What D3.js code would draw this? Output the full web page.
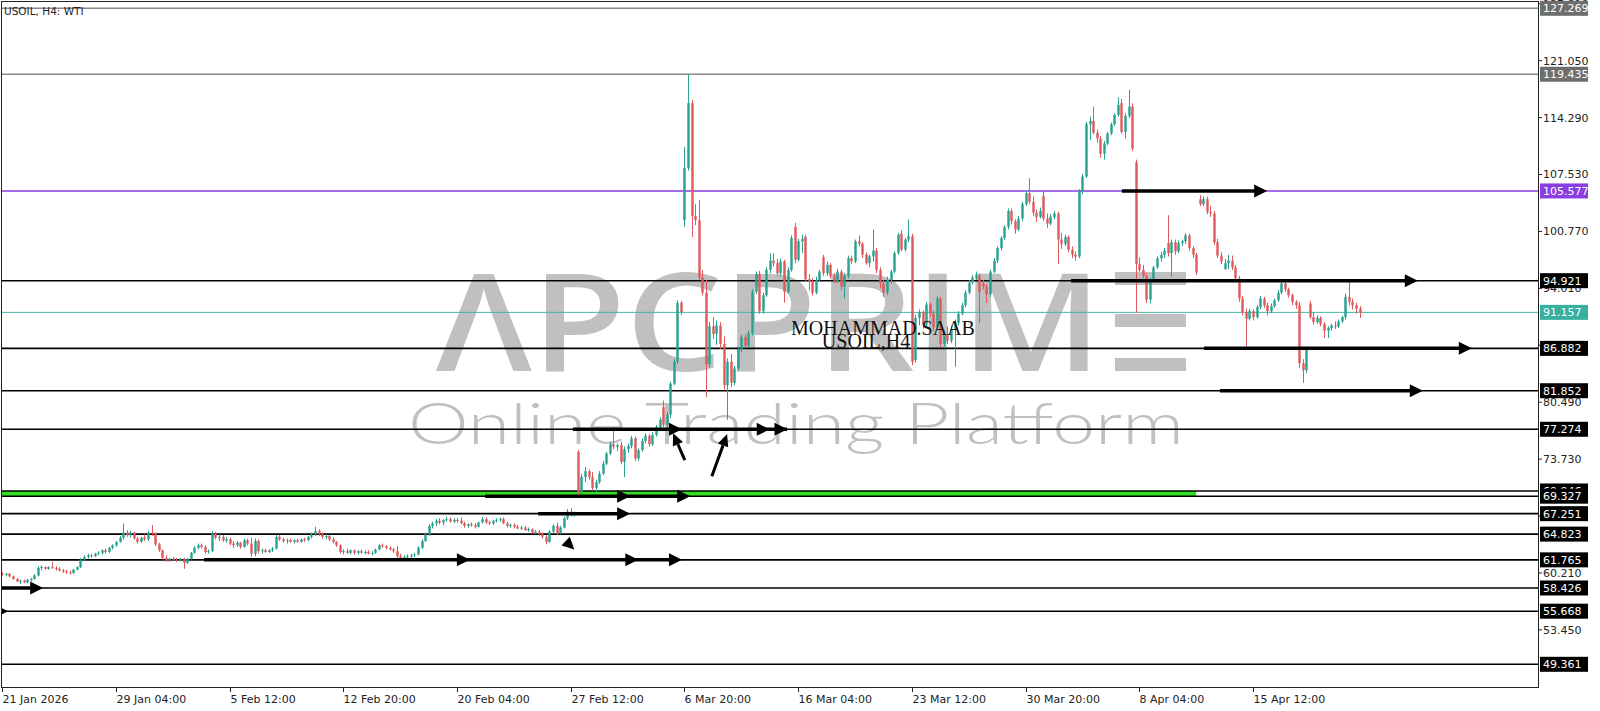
<!DOCTYPE html>
<html><head><meta charset="utf-8">
<script src="https://cdn.jsdelivr.net/npm/d3@7"></script>
<style>body{margin:0;background:#fff}svg{display:block}</style>
</head><body><svg id="c" width="1600" height="711"></svg>
<script>
// ---------- DATA ----------
const candles = [
[60.1,60.3,59.9,60.0],[60.0,60.2,59.8,60.1],[60.1,60.2,59.7,59.8],[59.8,59.9,59.4,59.5],[59.5,59.6,59.1,59.2],
[59.2,59.4,58.9,59.3],[59.3,59.4,59.0,59.1],[59.1,59.5,59.0,59.4],[59.4,59.6,59.2,59.5],[59.5,60.1,59.4,59.9],
[59.9,61.0,59.8,60.8],[60.8,61.1,60.5,60.9],[60.9,61.0,60.6,60.7],[60.7,61.0,60.6,60.9],[60.9,61.5,60.7,60.8],
[60.8,61.0,60.5,60.7],[60.7,60.9,60.4,60.5],[60.5,60.7,60.2,60.4],[60.4,60.6,60.1,60.3],[60.3,60.5,60.0,60.2],
[60.2,60.7,60.1,60.6],[60.6,61.0,60.5,60.9],[60.9,62.0,60.8,61.8],[61.8,62.3,61.6,62.1],[62.1,62.5,61.9,62.3],
[62.3,62.5,62.0,62.2],[62.2,62.6,62.1,62.5],[62.5,62.8,62.3,62.6],[62.6,63.0,62.4,62.9],[62.9,63.1,62.5,62.7],
[62.7,63.3,62.6,63.2],[63.2,63.6,63.0,63.5],[63.5,64.0,63.3,63.9],[63.9,64.6,63.8,64.4],[64.4,66.1,64.2,65.0],
[65.0,65.3,64.5,64.7],[64.7,65.2,64.4,65.0],[65.0,65.1,64.2,64.3],[64.3,64.5,63.7,63.9],[63.9,64.5,63.8,64.4],
[64.4,64.8,64.0,64.2],[64.2,65.2,64.0,65.0],[65.0,65.9,64.6,64.9],[64.9,65.0,63.4,63.6],[63.6,63.8,62.7,62.9],
[62.9,63.0,61.8,62.0],[62.0,62.3,61.5,61.7],[61.7,62.0,61.5,61.9],[61.9,62.1,61.6,61.8],[61.8,62.0,61.5,61.7],
[61.7,62.0,61.6,61.9],[61.9,62.0,60.7,61.4],[61.4,62.0,61.3,61.9],[61.9,62.7,61.8,62.6],[62.6,63.4,62.5,63.2],
[63.2,63.7,63.0,63.5],[63.5,63.7,63.1,63.3],[63.3,63.5,62.5,62.7],[62.7,63.0,62.5,62.8],[62.8,65.2,62.7,64.9],
[64.9,65.1,64.2,64.4],[64.4,64.8,64.0,64.5],[64.5,64.7,63.9,64.1],[64.1,64.5,63.8,64.2],[64.2,64.4,63.5,63.7],
[63.7,64.0,63.2,63.5],[63.5,64.0,63.3,63.8],[63.8,63.9,63.1,63.3],[63.3,64.3,63.2,64.1],[64.1,64.3,63.5,63.7],
[63.7,64.4,62.1,62.5],[62.5,64.3,62.2,64.0],[64.0,64.2,62.5,62.8],[62.8,63.1,62.5,62.9],[62.9,63.1,62.6,62.7],
[62.7,63.0,62.6,62.9],[62.9,63.3,62.7,63.1],[63.1,64.7,63.0,64.5],[64.5,64.7,64.0,64.2],[64.2,64.4,63.8,64.0],
[64.0,64.3,63.7,64.1],[64.1,64.3,63.8,63.9],[63.9,64.2,63.7,64.1],[64.1,64.3,63.8,63.9],[63.9,64.3,63.8,64.2],
[64.2,64.4,63.9,64.1],[64.1,64.6,64.0,64.5],[64.5,65.0,64.3,64.8],[64.8,65.7,64.6,65.2],[65.2,65.4,64.6,64.8],
[64.8,65.0,64.3,64.5],[64.5,64.8,64.2,64.6],[64.6,64.7,64.0,64.2],[64.2,64.4,63.7,63.9],[63.9,64.0,63.3,63.5],
[63.5,63.6,62.5,62.7],[62.7,63.0,62.4,62.8],[62.8,63.1,62.5,62.6],[62.6,63.0,62.4,62.9],[62.9,63.0,62.4,62.6],
[62.6,62.9,62.4,62.8],[62.8,63.0,62.5,62.6],[62.6,62.9,62.4,62.7],[62.7,62.9,62.4,62.5],[62.5,62.8,62.3,62.6],
[62.6,63.1,62.5,63.0],[63.0,63.6,62.9,63.5],[63.5,63.7,63.2,63.4],[63.4,63.5,63.0,63.2],[63.2,63.4,62.9,63.0],
[63.0,63.2,62.6,62.8],[62.8,63.4,62.0,62.2],[62.2,62.5,61.8,62.0],[62.0,62.3,61.8,62.1],[62.1,62.4,61.9,62.2],
[62.2,62.5,62.0,62.3],[62.3,62.6,62.1,62.4],[62.4,63.4,62.3,63.2],[63.2,64.2,63.1,64.0],[64.0,65.0,63.9,64.8],
[64.8,66.0,64.6,65.8],[65.8,66.3,65.5,66.1],[66.1,66.6,65.8,66.4],[66.4,66.7,66.0,66.2],[66.2,66.6,65.9,66.5],
[66.5,66.9,66.3,66.6],[66.6,66.8,66.2,66.3],[66.3,66.7,66.1,66.5],[66.5,66.7,66.2,66.4],[66.4,66.8,66.0,66.1],
[66.1,66.3,65.6,65.8],[65.8,66.1,65.6,66.0],[66.0,66.2,65.7,65.9],[65.9,66.1,65.5,65.7],[65.7,66.3,65.6,66.2],
[66.2,66.9,66.1,66.6],[66.6,66.8,66.0,66.2],[66.2,66.4,65.9,66.1],[66.1,66.5,65.9,66.4],[66.4,66.7,66.2,66.5],
[66.5,66.8,66.3,66.6],[66.6,66.8,66.0,66.1],[66.1,66.3,65.6,65.8],[65.8,66.1,65.6,65.9],[65.9,66.1,65.5,65.7],
[65.7,65.9,65.4,65.5],[65.5,65.8,65.3,65.6],[65.6,65.8,65.2,65.3],[65.3,65.6,65.1,65.4],[65.4,65.5,64.9,65.0],
[65.0,65.3,64.8,65.1],[65.1,65.3,64.6,64.8],[64.8,65.0,64.3,64.5],[64.5,64.7,63.6,63.9],[63.9,65.3,63.8,65.1],
[65.1,66.0,64.9,65.8],[65.8,66.2,64.7,64.9],[64.9,65.8,64.8,65.6],[65.6,66.9,65.5,66.7],[66.7,67.8,66.5,67.5],
[67.5,67.9,66.9,67.2],[67.2,67.5,66.9,67.3],[74.6,74.8,69.5,69.8],[69.8,72.0,69.5,71.6],[71.6,72.8,71.0,72.3],
[72.3,72.5,71.3,71.6],[71.6,72.2,70.0,70.3],[70.3,71.3,69.8,71.0],[71.0,72.3,70.8,72.0],[72.0,73.5,71.8,73.2],
[73.2,74.6,73.0,74.4],[74.4,75.8,74.2,75.5],[75.5,77.5,74.9,75.2],[75.2,75.6,74.7,75.4],[75.4,75.8,73.1,73.4],
[73.4,75.2,71.6,74.9],[74.9,75.6,74.5,75.3],[75.3,76.5,75.0,76.2],[76.2,76.4,73.5,73.8],[73.8,75.0,73.5,74.8],
[74.8,76.2,74.6,75.9],[75.9,76.8,75.6,76.5],[76.5,76.7,75.2,75.5],[75.5,76.9,75.3,76.6],[76.6,77.8,76.4,77.5],
[77.5,78.7,77.3,78.4],[79.9,80.7,77.5,77.8],[77.8,79.3,77.5,79.0],[79.0,82.9,78.6,82.7],[82.7,85.6,82.5,85.3],
[85.3,92.6,85.0,92.3],[92.3,92.5,90.8,91.2],[102.1,110.8,101.3,108.3],[108.3,119.4,108.0,116.0],[116.0,116.4,100.1,102.6],
[102.6,104.0,101.5,102.1],[102.1,104.5,95.0,95.3],[95.3,96.2,93.2,93.5],[93.5,95.0,81.1,85.0],[85.0,90.0,84.6,89.5],
[89.5,90.6,88.0,88.6],[88.6,90.2,87.3,89.6],[89.6,90.0,86.8,87.4],[87.4,88.3,82.0,82.5],[82.5,85.7,78.4,85.3],
[85.3,86.2,82.3,82.8],[82.8,84.8,82.5,84.5],[84.5,87.0,84.2,86.7],[86.7,88.5,86.4,88.2],[88.2,88.5,86.9,87.2],
[87.2,89.0,87.0,88.7],[88.7,93.9,88.4,93.6],[93.6,96.0,93.3,95.7],[95.7,96.1,91.0,91.3],[91.3,93.5,91.0,93.2],
[93.2,96.5,93.0,96.2],[96.2,98.2,95.8,97.3],[97.3,98.2,96.6,97.0],[97.0,97.5,95.5,95.8],[95.8,97.5,95.4,97.2],
[97.2,97.4,92.3,93.6],[93.6,96.5,93.4,96.2],[96.2,100.3,96.0,100.0],[101.3,101.8,97.0,97.4],[97.4,99.9,97.2,99.6],
[99.6,100.4,98.2,99.9],[100.1,100.4,94.8,95.1],[95.1,95.7,93.8,94.8],[94.8,95.2,93.2,93.5],[93.5,95.4,93.3,95.0],
[95.0,96.2,94.8,96.0],[97.7,98.0,95.5,95.8],[95.8,97.2,95.5,96.8],[96.8,97.0,95.2,95.5],[95.5,95.8,94.6,94.8],
[94.8,96.3,94.6,96.0],[96.0,96.2,93.8,94.2],[94.2,95.8,92.8,95.5],[95.5,97.9,95.2,97.6],[97.6,97.9,96.9,97.2],
[97.2,99.8,97.0,99.6],[99.6,100.3,99.0,99.3],[99.3,99.5,97.6,98.0],[98.0,98.3,96.8,97.0],[97.0,98.0,96.5,97.8],
[97.8,101.0,97.2,98.5],[98.5,98.8,95.8,96.2],[96.2,96.5,94.0,94.6],[94.6,95.0,93.0,93.5],[93.5,95.4,93.2,95.0],
[95.0,96.2,94.6,96.0],[96.0,98.4,95.8,98.2],[98.2,100.6,98.0,100.4],[100.5,100.9,98.4,98.6],[98.6,100.0,98.4,99.8],
[99.8,102.2,99.5,100.2],[100.2,100.5,84.9,85.3],[85.5,90.9,85.2,90.5],[90.5,91.5,89.6,91.2],[91.2,91.4,89.2,89.7],
[89.7,92.4,89.5,92.1],[92.1,92.3,90.6,91.0],[91.0,91.3,88.9,89.4],[89.4,93.1,89.2,92.8],[92.8,93.0,87.0,87.4],
[87.4,89.0,86.9,88.6],[88.6,89.5,87.4,87.8],[87.8,89.6,87.5,89.2],[89.2,90.3,84.7,89.9],[89.9,91.3,89.6,91.0],
[91.0,92.3,90.8,92.0],[92.0,93.8,91.8,93.5],[93.5,95.0,93.3,94.7],[94.7,95.6,94.5,95.3],[95.3,96.0,95.0,95.5],
[95.5,95.8,89.9,93.6],[94.6,95.0,93.9,94.2],[94.2,94.5,92.3,93.3],[93.3,96.2,93.0,96.0],[96.0,97.6,95.8,97.3],
[97.3,99.0,97.0,98.8],[98.8,100.2,98.5,100.0],[100.0,101.5,99.8,101.3],[101.3,103.5,101.0,103.2],[103.2,103.5,101.6,102.0],
[102.0,102.2,100.5,101.0],[101.0,102.6,100.8,102.3],[102.3,104.3,102.0,104.0],[104.0,105.6,103.8,105.3],[105.3,107.1,104.0,104.3],
[104.3,104.9,102.6,103.0],[103.0,103.4,101.9,102.5],[102.5,103.6,102.3,103.2],[105.0,105.5,102.0,102.3],[102.3,102.9,101.2,101.7],
[101.7,102.8,101.5,102.5],[102.5,103.2,102.2,102.9],[102.9,103.1,96.9,99.8],[99.8,100.6,98.7,99.3],[99.3,100.4,99.0,100.1],
[100.1,100.3,98.3,98.6],[98.6,99.0,97.6,98.0],[98.0,98.4,97.3,97.8],[97.8,105.8,97.6,105.6],[105.6,107.6,105.2,107.3],
[107.3,113.8,107.1,113.5],[113.5,114.4,111.6,113.9],[113.9,115.6,112.3,112.5],[112.5,112.9,111.3,111.8],[111.8,112.1,109.5,110.0],
[110.0,111.5,109.3,111.2],[111.2,112.6,111.0,112.4],[112.4,113.7,112.2,113.5],[113.5,114.8,113.3,114.6],[114.6,116.7,114.4,115.8],
[116.0,116.5,112.4,112.6],[112.6,114.8,111.8,114.5],[114.5,117.6,114.2,115.6],[115.6,116.0,110.3,110.6],[109.0,109.3,91.1,96.9],
[96.9,97.7,96.0,96.2],[96.2,96.8,95.2,95.5],[95.5,95.8,92.3,92.7],[92.7,95.3,92.2,95.0],[95.0,96.7,94.8,96.5],
[96.5,97.8,96.3,97.6],[97.6,98.3,97.2,98.0],[98.0,98.8,97.6,98.5],[99.4,102.7,97.8,98.2],[98.2,99.8,95.4,99.5],
[99.5,99.8,98.0,98.4],[98.4,99.7,98.2,99.4],[99.4,99.8,99.0,99.6],[99.6,100.6,99.3,100.3],[100.3,100.5,98.5,98.8],
[98.8,99.0,97.6,98.0],[98.0,98.2,95.6,95.9],[104.6,105.1,103.8,104.0],[104.0,104.9,103.8,104.6],[104.6,104.9,102.8,103.1],
[103.1,103.8,102.5,102.9],[102.9,103.2,99.2,99.5],[99.5,99.9,97.6,97.9],[97.9,98.3,96.9,97.2],[96.3,97.5,96.2,97.0],
[97.0,98.0,96.3,97.3],[97.3,97.9,96.2,96.5],[96.5,96.8,94.8,95.2],[95.2,95.5,92.4,92.8],[92.8,93.1,90.8,91.2],
[91.2,91.6,87.1,90.4],[90.4,91.6,90.2,91.3],[91.3,91.5,90.2,90.6],[90.6,92.0,90.4,91.8],[91.8,93.1,91.5,92.8],
[92.8,93.0,91.7,92.0],[92.0,92.3,90.8,91.3],[91.3,92.2,91.1,91.9],[91.9,92.8,91.7,92.6],[92.6,93.8,92.4,93.5],
[93.5,95.0,93.3,94.6],[94.6,94.8,93.6,93.9],[93.9,94.1,92.9,93.2],[93.2,93.4,92.0,92.4],[92.4,92.6,91.6,92.0],
[92.0,92.4,84.6,85.1],[85.1,85.6,82.8,84.3],[84.3,87.0,84.0,86.7],[92.2,92.5,90.4,90.6],[90.6,91.2,89.7,90.0],
[90.0,90.8,89.8,90.5],[90.5,90.7,89.5,89.8],[89.8,90.0,88.1,89.0],[89.0,89.5,88.1,89.3],[89.3,89.8,89.0,89.6],
[89.6,90.1,89.2,89.5],[89.5,90.3,89.3,90.1],[90.1,90.8,89.9,90.6],[90.6,93.4,90.3,93.0],[93.0,94.8,92.0,92.4],
[92.4,92.8,91.5,92.0],[92.0,92.3,91.0,91.6],[91.6,91.9,90.5,91.157]
];
const levelValues = [127.269,119.435,105.577,94.921,91.157,86.882,81.852,77.274,69.946,69.327,67.251,64.823,61.765,58.426,55.668,49.361];
const levelKinds  = ['gray','gray','purple','black','current','black','black','black','black','black','black','black','black','black','black','black'];
const priceTicks = [127.810,121.050,114.290,107.530,100.770,94.010,87.250,80.490,73.730,66.970,60.210,53.450];
const timeLabels = ['21 Jan 2026','29 Jan 04:00','5 Feb 12:00','12 Feb 20:00','20 Feb 04:00','27 Feb 12:00','6 Mar 20:00','16 Mar 04:00','23 Mar 12:00','30 Mar 20:00','8 Apr 04:00','15 Apr 12:00'];
const timeTickBars = [0,32,64,96,128,160,192,224,256,288,320,352];
// green zone between two levels, bar range
const greenZone = [69.946, 69.327, -1, 336];
// horizontal arrows: [price, fromBar, toBar, arrowhead bars]
const hArrows = [
  [58.426, -0.5, 11.5, [11.5]],
  [55.668, -0.6, 1.6, [1.6]],
  [61.765, 56.8, 191.3, [131.6, 179, 191.3]],
  [67.251, 150.8, 176.7, [176.7]],
  [69.327, 135.9, 193.6, [176.7, 193.6]],
  [77.274, 160.6, 222, [191.3, 216, 221]],
  [105.577, 315.1, 356, [356]],
  [94.921, 300.8, 398.4, [398.4]],
  [86.882, 338.2, 413.6, [413.6]],
  [81.852, 342.7, 399.8, [399.8]]
];
// diagonal arrows: [fromBar, fromPrice, toBar, toPrice]
const dArrows = [
  [192.1, 73.6, 188.8, 76.8],
  [199.7, 71.7, 204.0, 76.7]
];
// lone arrowhead: [tipBar, tipPrice, directionBar, directionPrice]
const loneHeads = [[161.0, 63.0, 157.5, 64.4]];

// ---------- CHART ----------
const svg = d3.select('#c');
const L = 2, R = 1538, T = 2, B = 687;
const x = d3.scaleLinear().domain([0, 432]).range([2.3, 2.3 + 432 * 3.553]);
const y = d3.scaleLinear().domain([127.269, 49.361]).range([8.3, 664.3]);
const FONT = "'DejaVu Sans', Verdana, sans-serif";

svg.append('rect').attr('width', 1600).attr('height', 711).attr('fill', '#fff');
const defs = svg.append('defs');
defs.append('clipPath').attr('id', 'plot').append('rect').attr('x', L).attr('y', T).attr('width', R - L).attr('height', B - T);

const g = svg.append('g').attr('clip-path', 'url(#plot)');

// watermark
const wm = g.append('g').attr('fill', '#c0c0c0');
wm.append('text').attr('x', 436).attr('y', 371)
  .attr('font-family', "'Open Sans', sans-serif").attr('font-size', 136).attr('font-weight', 600)
  .attr('textLength', 666).attr('lengthAdjust', 'spacingAndGlyphs').text('ΛPCPRIM');
[272, 314, 358].forEach(yy => wm.append('rect').attr('x', 1115).attr('y', yy).attr('width', 71).attr('height', 13));
wm.append('text').attr('x', 408).attr('y', 444)
  .attr('font-family', "Lato, 'Open Sans', sans-serif").attr('font-size', 58).attr('font-weight', 300)
  .attr('textLength', 776).attr('lengthAdjust', 'spacingAndGlyphs').text('Online Trading Platform');

// green zone
g.append('rect').attr('x', x(greenZone[2])).attr('width', x(greenZone[3]) - x(greenZone[2]))
  .attr('y', y(greenZone[0])).attr('height', y(greenZone[1]) - y(greenZone[0])).attr('fill', '#33dd22');

// level lines
const lineStyle = {gray: ['#8a8a8a', 1.6], purple: ['#8a3de0', 1.6], black: ['#000', 1.6], current: ['#3fb8a8', 1]};
levelValues.forEach((v, i) => {
  const [c, w] = lineStyle[levelKinds[i]];
  g.append('line').attr('x1', L).attr('x2', R).attr('y1', y(v)).attr('y2', y(v))
    .attr('stroke', c).attr('stroke-width', w);
});

// candles
const UP = '#26a28e', DN = '#e0585a';
const cg = g.append('g');
candles.forEach((d, i) => {
  const [o, h, l, c] = d;
  const col = c >= o ? UP : DN;
  const cx = Math.round(x(i)) + 0.5;
  cg.append('line').attr('x1', cx).attr('x2', cx).attr('y1', y(h)).attr('y2', y(l)).attr('stroke', col).attr('stroke-width', 1);
  const y0 = y(Math.max(o, c)), y1 = y(Math.min(o, c));
  cg.append('rect').attr('x', cx - 1.2).attr('width', 2.4).attr('y', y0).attr('height', Math.max(1, y1 - y0)).attr('fill', col);
});

// signature text
g.append('text').attr('x', 883).attr('y', 335).attr('text-anchor', 'middle')
  .attr('font-family', "'Liberation Serif', 'Times New Roman', serif").attr('font-size', 20).attr('fill', '#111').text('MOHAMMAD.SAAB');
g.append('text').attr('x', 866).attr('y', 348).attr('text-anchor', 'middle')
  .attr('font-family', "'Liberation Serif', 'Times New Roman', serif").attr('font-size', 20).attr('fill', '#111').text('USOIL,H4');

// arrows
const ag = g.append('g').attr('fill', '#000').attr('stroke', '#000');
hArrows.forEach(([v, a, b, heads]) => {
  const yy = y(v);
  ag.append('line').attr('x1', x(a)).attr('x2', x(b) - 4).attr('y1', yy).attr('y2', yy).attr('stroke-width', 3.5);
  heads.forEach(hb => {
    const hx = x(hb);
    ag.append('path').attr('stroke', 'none')
      .attr('d', `M${hx},${yy} L${hx - 13},${yy - 6.5} L${hx - 13},${yy + 6.5} Z`);
  });
});
function head(x2, y2, ang, len, wd) {
  const bx = x2 - len * Math.cos(ang), by = y2 - len * Math.sin(ang);
  const px = -Math.sin(ang) * wd, py = Math.cos(ang) * wd;
  ag.append('path').attr('stroke', 'none').attr('d', `M${x2},${y2} L${bx + px},${by + py} L${bx - px},${by - py} Z`);
  return [bx, by];
}
dArrows.forEach(([a, va, b, vb]) => {
  const x1 = x(a), y1 = y(va), x2 = x(b), y2 = y(vb);
  const ang = Math.atan2(y2 - y1, x2 - x1);
  const [bx, by] = head(x2, y2, ang, 12, 5.5);
  ag.append('line').attr('x1', x1).attr('y1', y1).attr('x2', bx).attr('y2', by).attr('stroke-width', 3);
});
loneHeads.forEach(([a, va, b, vb]) => {
  const x2 = x(a), y2 = y(va);
  const ang = Math.atan2(y2 - y(vb), x2 - x(b));
  head(x2, y2, ang, 12, 6);
});

// frame
svg.append('rect').attr('x', L - 0.5).attr('y', T - 0.5).attr('width', R - L + 1).attr('height', B - T + 1)
  .attr('fill', 'none').attr('stroke', '#222').attr('stroke-width', 1);

// title
svg.append('text').attr('x', 4).attr('y', 15).attr('font-family', FONT).attr('font-size', 10.5).attr('fill', '#222')
  .text('USOIL, H4:  WTI');

// right axis ticks
const ax = svg.append('g').attr('font-family', FONT).attr('font-size', 11).attr('fill', '#222');
priceTicks.forEach(v => {
  ax.append('line').attr('x1', R).attr('x2', R + 4).attr('y1', y(v)).attr('y2', y(v)).attr('stroke', '#222');
  ax.append('text').attr('x', R + 5).attr('y', y(v)).attr('dy', '0.36em').text(v.toFixed(3));
});

// bottom axis
const bx = svg.append('g').attr('font-family', FONT).attr('font-size', 11).attr('fill', '#222');
timeTickBars.forEach((b, i) => {
  const tx = Math.round(x(b)) + 0.5;
  bx.append('line').attr('x1', tx).attr('x2', tx).attr('y1', B).attr('y2', B + 5).attr('stroke', '#222');
  bx.append('text').attr('x', tx).attr('y', 703).text(timeLabels[i]);
});

// level labels
const boxFill = {gray: '#6e6e6e', purple: '#8a3de0', black: '#000', current: '#36b0a0'};
levelValues.forEach((v, i) => {
  const yy = y(v);
  svg.append('rect').attr('x', 1540).attr('y', yy - 7.5).attr('width', 48).attr('height', 15).attr('fill', boxFill[levelKinds[i]]);
  svg.append('text').attr('x', 1543).attr('y', yy).attr('dy', '0.36em').attr('font-family', FONT).attr('font-size', 11)
    .attr('fill', '#fff').text(v.toFixed(3));
});
</script></body></html>
